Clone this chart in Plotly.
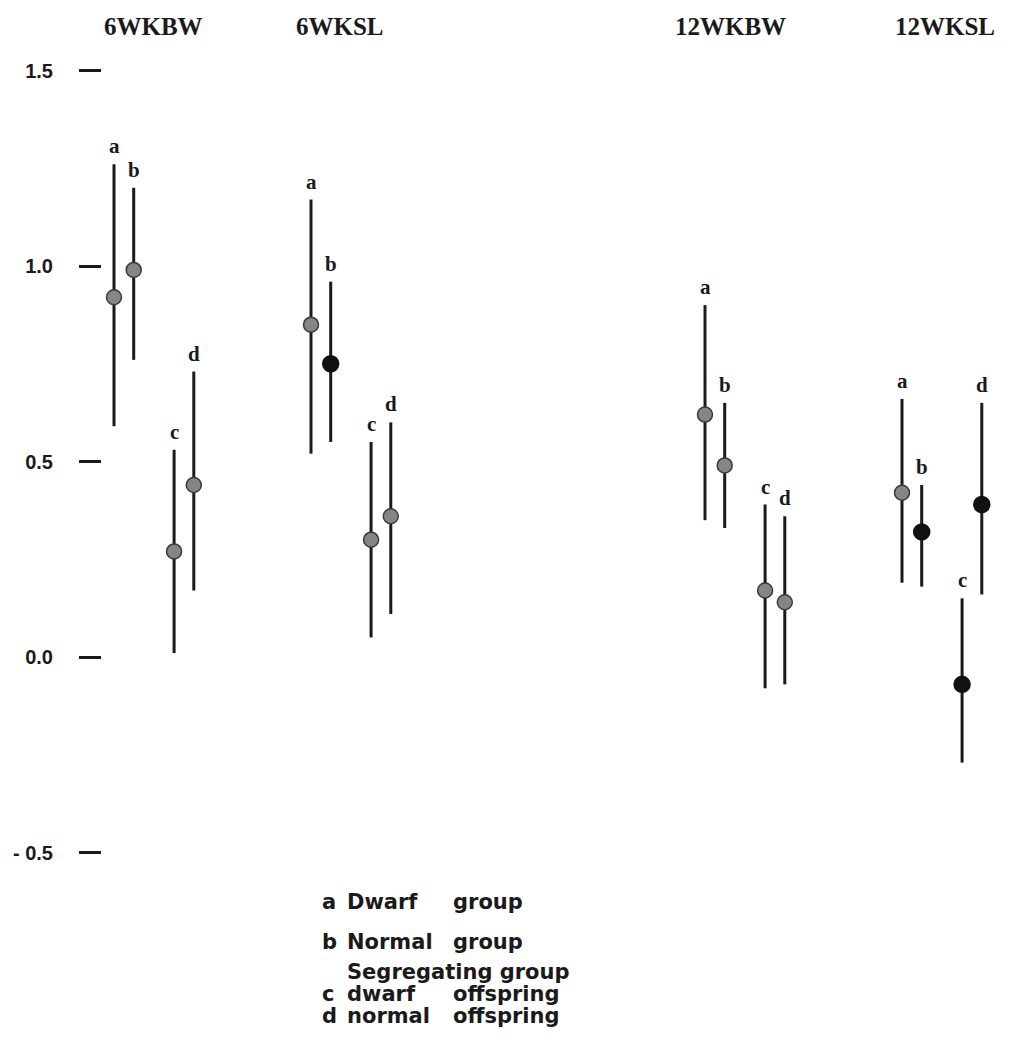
import plotly.graph_objects as go

# ---------------- data ----------------
groups = ["6WKBW", "6WKSL", "12WKBW", "12WKSL"]
letters = ["a", "b", "c", "d"]

means = {
    "6WKBW": [0.92, 0.99, 0.27, 0.44],
    "6WKSL": [0.85, 0.75, 0.30, 0.36],
    "12WKBW": [0.62, 0.49, 0.17, 0.14],
    "12WKSL": [0.42, 0.32, -0.07, 0.39],
}
upper = {
    "6WKBW": [1.26, 1.20, 0.53, 0.73],
    "6WKSL": [1.17, 0.96, 0.55, 0.60],
    "12WKBW": [0.90, 0.65, 0.39, 0.36],
    "12WKSL": [0.66, 0.44, 0.15, 0.65],
}
lower = {
    "6WKBW": [0.59, 0.76, 0.01, 0.17],
    "6WKSL": [0.52, 0.55, 0.05, 0.11],
    "12WKBW": [0.35, 0.33, -0.08, -0.07],
    "12WKSL": [0.19, 0.18, -0.27, 0.16],
}
# solid black marker (True) vs grey marker (False)
solid = {
    "6WKBW": [False, False, False, False],
    "6WKSL": [False, True, False, False],
    "12WKBW": [False, False, False, False],
    "12WKSL": [False, True, True, True],
}

tick_vals = [-0.5, 0.0, 0.5, 1.0, 1.5]
tick_text = ["- 0.5", "0.0", "0.5", "1.0", "1.5"]

legend_rows = [
    ("a", "Dwarf", "group"),
    ("b", "Normal", "group"),
    ("", "Segregating group", ""),
    ("c", "dwarf", "offspring"),
    ("d", "normal", "offspring"),
]

# ---------------- layout constants ----------------
PAGE_W, PAGE_H = 1009, 1043
BODY = 8                     # default page body margin
W, H = PAGE_W - 2 * BODY, PAGE_H - 2 * BODY
ML = 102 - BODY
group_slot = [0, 1, 3, 4]
letter_off = [0.0, 0.10, 0.305, 0.405]
slot_px = 197.0
x_min = -((114 - BODY) - ML) / slot_px
x_max = x_min + (W - ML) / slot_px
zero_px = 657 - BODY
unit_px = 391.0
y_max = zero_px / unit_px
y_min = -(H - zero_px) / unit_px

def px_x(p):
    return (p - BODY - ML) / (W - ML)

def px_y(p):
    return (H - (p - BODY)) / H

fig = go.Figure()

annotations = []
for gi, g in enumerate(groups):
    xs = [group_slot[gi] + o for o in letter_off]
    m = means[g]
    up = [u - v for u, v in zip(upper[g], m)]
    dn = [v - l for v, l in zip(m, lower[g])]
    colors = ["#111111" if s else "#858585" for s in solid[g]]
    lcolors = ["#111111" if s else "#3a3a3a" for s in solid[g]]
    sizes = [16 if s else 15 for s in solid[g]]
    fig.add_trace(go.Scatter(
        x=xs, y=m, mode="markers",
        marker=dict(color=colors, size=sizes, opacity=1,
                    line=dict(color=lcolors, width=1.5)),
        error_y=dict(type="data", symmetric=False, array=up, arrayminus=dn,
                     color="#1a1a1a", thickness=3, width=0),
        showlegend=False, hoverinfo="skip",
    ))
    for li, lt in enumerate(letters):
        annotations.append(dict(
            x=xs[li], y=upper[g][li], xref="x", yref="y",
            text="<b>%s</b>" % lt, showarrow=False,
            yanchor="bottom", xanchor="center", yshift=4,
            font=dict(family="Liberation Serif", size=21, color="#1a1a1a"),
        ))

# group headers
header_px = [(153, 26), (340, 26), (730, 26), (945, 26)]
for g, (hx, hy) in zip(groups, header_px):
    annotations.append(dict(
        x=px_x(hx), y=px_y(hy), xref="paper", yref="paper",
        text="<b>%s</b>" % g, showarrow=False,
        xanchor="center", yanchor="middle",
        font=dict(family="Liberation Serif", size=25, color="#1a1a1a"),
    ))

# legend text block
row_y = [902, 942, 972, 994, 1016]
lf = dict(family="DejaVu Sans", size=21, color="#1a1a1a")
common = dict(xref="paper", yref="paper", showarrow=False, xanchor="left",
              yanchor="middle", font=lf, height=22, borderpad=0, valign="middle")
for (lt, w1, w2), ry in zip(legend_rows, row_y):
    if lt:
        annotations.append(dict(x=px_x(321), y=px_y(ry), text="<b>%s</b>" % lt, **common))
    annotations.append(dict(x=px_x(346), y=px_y(ry), text="<b>%s</b>" % w1, **common))
    if w2:
        annotations.append(dict(x=px_x(452), y=px_y(ry), text="<b>%s</b>" % w2, **common))

fig.update_layout(
    width=W, height=H,
    margin=dict(l=ML, r=0, t=0, b=0, pad=0),
    paper_bgcolor="white", plot_bgcolor="white",
    xaxis=dict(visible=False, range=[x_min, x_max], fixedrange=True),
    yaxis=dict(range=[y_min, y_max], showgrid=False, zeroline=False,
               showline=False, ticks="outside", ticklen=22, tickwidth=3,
               tickcolor="#1a1a1a", tickvals=tick_vals, ticktext=tick_text,
               ticklabelstandoff=22,
               tickfont=dict(family="Liberation Sans", size=20, color="#1a1a1a",
                             weight="bold"),
               fixedrange=True),
    annotations=annotations,
    showlegend=False,
)

fig.write_html("out.html")
